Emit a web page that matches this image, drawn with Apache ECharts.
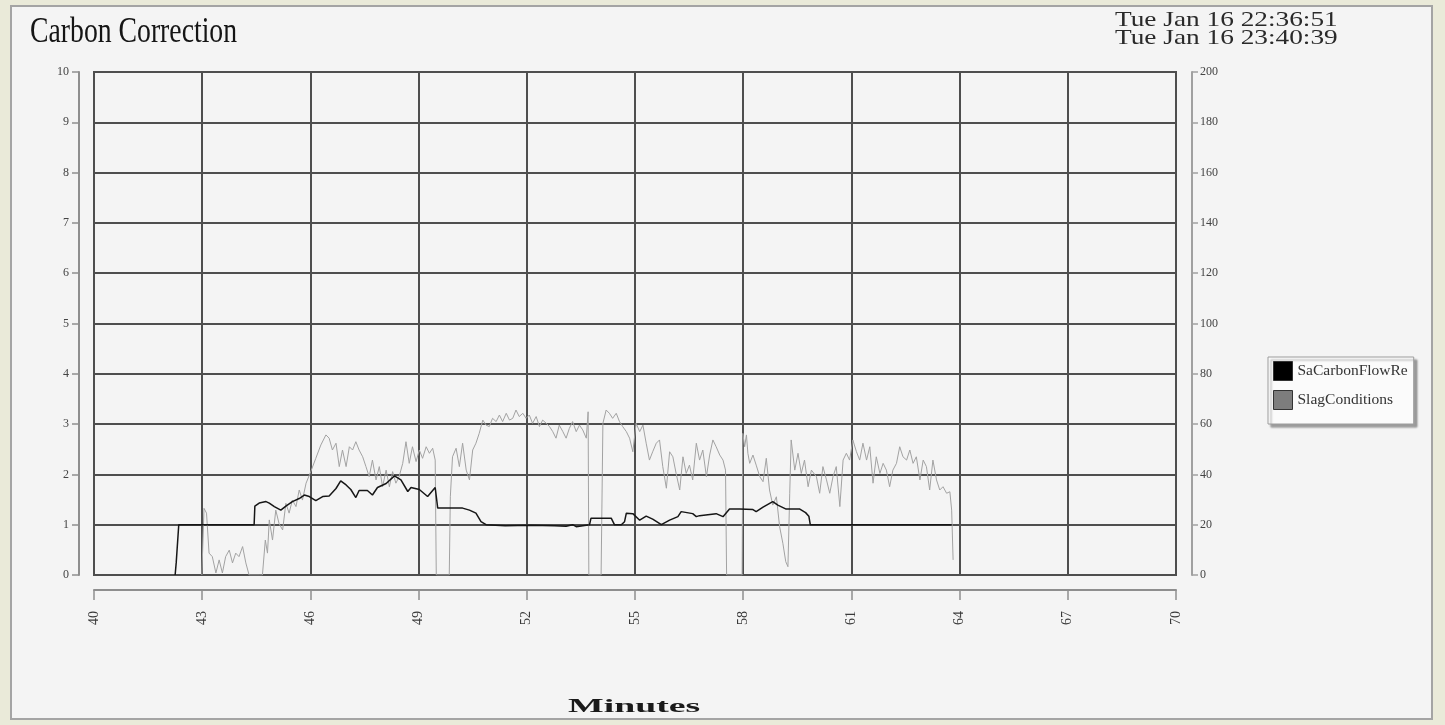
<!DOCTYPE html>
<html>
<head>
<meta charset="utf-8">
<title>Carbon Correction</title>
<script src="https://cdn.jsdelivr.net/npm/echarts@6/dist/echarts.min.js"></script>
<style>
  html, body { margin: 0; padding: 0; background: #eaead9; }
  #chart { width: 1445px; height: 725px; }
</style>
</head>
<body>
<div id="chart"></div>
<script>
// Run window, in minutes
const startStamp = 'Tue Jan 16 22:36:51';
const endStamp = 'Tue Jan 16 23:40:39';

const seriesNames = ['SaCarbonFlowRe', 'SlagConditions'];

// SaCarbonFlowRe (left axis, 0-10)
const carbonMinutes = [42.25, 42.28, 42.33, 42.35, 44.44, 44.46, 44.58, 44.77, 44.86, 45.00,
  45.18, 45.32, 45.50, 45.69, 45.83, 45.97, 46.15, 46.34, 46.52, 46.71,
  46.84, 46.99, 47.12, 47.26, 47.35, 47.58, 47.72, 47.86, 48.10, 48.33,
  48.51, 48.70, 48.79, 49.02, 49.25, 49.46, 49.53, 50.22, 50.41, 50.59,
  50.73, 50.87, 51.40, 52.10, 52.77, 52.80, 53.09, 53.27, 53.37, 53.74,
  53.78, 54.34, 54.43, 54.62, 54.71, 54.76, 54.94, 55.13, 55.31, 55.49,
  55.73, 55.96, 56.19, 56.28, 56.60, 56.70, 56.79, 57.25, 57.44, 57.62,
  57.90, 58.27, 58.36, 58.55, 58.82, 58.96, 59.19, 59.57, 59.73, 59.82,
  59.86, 63.78];
const carbonValues = [0, 0.25, 0.25, 1.0, 1.0, 1.37, 1.43, 1.46, 1.43, 1.36,
  1.29, 1.37, 1.46, 1.52, 1.59, 1.56, 1.48, 1.56, 1.57, 1.72,
  1.87, 1.79, 1.70, 1.54, 1.68, 1.68, 1.59, 1.74, 1.82, 1.97,
  1.89, 1.66, 1.74, 1.70, 1.56, 1.74, 1.33, 1.33, 1.29, 1.23,
  1.06, 1.0, 0.98, 0.99, 0.98, 1.01, 0.97, 1.0, 0.96, 1.0,
  1.13, 1.13, 1.0, 1.0, 1.06, 1.23, 1.22, 1.09, 1.17, 1.11,
  1.0, 1.09, 1.16, 1.26, 1.22, 1.16, 1.18, 1.22, 1.16, 1.31,
  1.31, 1.30, 1.26, 1.35, 1.46, 1.39, 1.31, 1.31, 1.24, 1.17,
  1.0, 1.0];

// SlagConditions (right axis, 0-200)
const slagMinutes = [42.99, 43.05, 43.12, 43.19, 43.28, 43.38, 43.47, 43.56, 43.65, 43.75,
  43.84, 43.93, 44.02, 44.12, 44.21, 44.30, 44.58, 44.67, 44.75, 44.81,
  44.86, 44.95, 45.04, 45.13, 45.23, 45.32, 45.41, 45.50, 45.60, 45.69,
  45.78, 45.88, 46.01, 46.15, 46.29, 46.43, 46.52, 46.61, 46.71, 46.80,
  46.89, 46.99, 47.08, 47.17, 47.26, 47.35, 47.45, 47.54, 47.63, 47.72,
  47.82, 47.91, 48.00, 48.10, 48.19, 48.28, 48.37, 48.46, 48.56, 48.65,
  48.74, 48.83, 48.93, 49.02, 49.11, 49.21, 49.30, 49.39, 49.46, 49.49,
  49.85, 49.88, 49.94, 50.04, 50.13, 50.22, 50.32, 50.41, 50.50, 50.59,
  50.68, 50.78, 50.87, 50.96, 51.05, 51.15, 51.24, 51.33, 51.43, 51.52,
  51.61, 51.70, 51.79, 51.89, 51.98, 52.07, 52.16, 52.26, 52.35, 52.44,
  52.54, 52.63, 52.72, 52.81, 52.90, 53.00, 53.09, 53.18, 53.27, 53.37,
  53.46, 53.55, 53.65, 53.70, 53.72, 54.06, 54.11, 54.20, 54.29, 54.38,
  54.48, 54.57, 54.66, 54.76, 54.85, 54.94, 55.03, 55.13, 55.22, 55.31,
  55.40, 55.49, 55.59, 55.68, 55.77, 55.87, 55.96, 56.05, 56.14, 56.24,
  56.33, 56.42, 56.51, 56.60, 56.70, 56.79, 56.88, 56.98, 57.07, 57.16,
  57.25, 57.35, 57.44, 57.51, 57.54, 57.97, 57.99, 58.04, 58.09, 58.13,
  58.18, 58.27, 58.36, 58.46, 58.55, 58.64, 58.73, 58.82, 58.92, 59.01,
  59.10, 59.18, 59.24, 59.29, 59.33, 59.43, 59.52, 59.61, 59.70, 59.80,
  59.89, 60.03, 60.12, 60.21, 60.31, 60.40, 60.49, 60.58, 60.68, 60.77,
  60.86, 60.95, 61.04, 61.14, 61.23, 61.32, 61.42, 61.51, 61.60, 61.69,
  61.79, 61.88, 61.97, 62.06, 62.15, 62.25, 62.34, 62.43, 62.53, 62.62,
  62.71, 62.80, 62.90, 62.99, 63.08, 63.17, 63.26, 63.36, 63.45, 63.54,
  63.64, 63.73, 63.78, 63.82];
const slagValues = [0, 26.5, 24.6, 8.7, 7.3, 0.8, 6.0, 0.8, 7.3, 9.9,
  4.8, 8.7, 7.3, 11.3, 4.8, 0, 0, 0, 13.9, 8.7,
  21.9, 13.9, 25.8, 20.5, 17.9, 28.5, 24.6, 29.8, 27.2, 33.8,
  29.8, 36.5, 41.1, 46.4, 51.7, 55.7, 54.4, 49.7, 52.4, 43.1,
  49.7, 43.1, 51.0, 49.7, 53.0, 49.7, 47.0, 43.1, 39.1, 45.7,
  37.8, 43.1, 35.1, 41.7, 35.1, 41.1, 36.5, 39.1, 44.4, 53.0,
  44.4, 51.0, 45.1, 49.7, 46.4, 51.0, 48.4, 50.4, 45.7, 0,
  0, 31.1, 47.0, 50.4, 43.1, 52.4, 41.7, 37.8, 49.7, 52.4,
  56.3, 61.6, 59.6, 59.0, 62.3, 61.0, 63.6, 61.0, 64.3, 61.6,
  62.3, 65.6, 63.0, 64.3, 62.3, 63.6, 60.3, 63.0, 59.0, 61.6,
  60.3, 59.0, 57.0, 54.4, 59.6, 57.0, 54.4, 58.3, 61.0, 57.0,
  59.6, 57.7, 54.4, 64.9, 0, 0, 60.3, 65.6, 64.3, 62.3,
  64.3, 61.0, 59.0, 57.0, 54.4, 49.0, 60.3, 57.0, 59.6, 52.4,
  45.7, 49.0, 52.4, 53.7, 43.1, 34.5, 49.0, 47.0, 40.4, 33.8,
  47.0, 40.4, 43.7, 37.8, 52.4, 45.7, 49.7, 39.1, 47.7, 53.7,
  51.0, 47.7, 45.7, 41.7, 0, 0, 56.3, 51.0, 55.7, 48.4,
  44.4, 47.7, 43.7, 39.1, 37.1, 46.4, 33.8, 27.8, 31.1, 19.2,
  12.6, 5.3, 3.3, 32.5, 53.7, 41.7, 48.4, 40.4, 45.7, 35.1,
  41.7, 39.1, 32.5, 43.1, 37.8, 32.5, 39.1, 43.1, 27.2, 45.7,
  48.4, 45.7, 53.7, 49.0, 45.7, 52.4, 45.7, 51.0, 36.5, 47.0,
  40.4, 44.4, 41.7, 35.1, 41.7, 44.4, 51.0, 47.0, 45.7, 49.7,
  44.4, 47.0, 37.8, 45.7, 43.1, 33.8, 45.7, 37.8, 33.8, 35.1,
  32.5, 33.1, 25.8, 6.0];

const pairs = (xs, ys) => xs.map((x, i) => [x, ys[i]]);

const gridColor = '#4e4e4e';
const axisColor = '#8e8e8e';
const serif = '"Liberation Serif", "Times New Roman", serif';

const chart = echarts.init(document.getElementById('chart'), null, { renderer: 'canvas' });

chart.setOption({
  animation: false,
  backgroundColor: '#eaead9',
  graphic: [
    {
      type: 'rect', z: -10, silent: true,
      shape: { x: 11, y: 6, width: 1421, height: 713 },
      style: { fill: '#f4f4f4', stroke: '#a4a4a4', lineWidth: 2 }
    },
    {
      type: 'text', x: 30, y: 33, scaleX: 0.77, silent: true,
      style: { text: 'Carbon Correction', font: '36px ' + serif, fill: '#151515',
               align: 'left', verticalAlign: 'middle', textAlign: 'left', textVerticalAlign: 'middle' }
    },
    {
      type: 'text', x: 1115, y: 20, scaleX: 1.3, silent: true,
      style: { text: startStamp, font: '21px ' + serif, fill: '#2a2a2a',
               align: 'left', verticalAlign: 'middle', textAlign: 'left', textVerticalAlign: 'middle' }
    },
    {
      type: 'text', x: 1115, y: 38, scaleX: 1.3, silent: true,
      style: { text: endStamp, font: '21px ' + serif, fill: '#2a2a2a',
               align: 'left', verticalAlign: 'middle', textAlign: 'left', textVerticalAlign: 'middle' }
    },
    {
      type: 'text', x: 568, y: 707, scaleX: 2.1, silent: true,
      style: { text: 'Minutes', font: 'bold 18px ' + serif, fill: '#1a1a1a',
               align: 'left', verticalAlign: 'middle', textAlign: 'left', textVerticalAlign: 'middle' }
    }
  ],
  legend: {
    orient: 'vertical',
    left: 1268,
    top: 357,
    padding: [4, 6, 14, 5],
    itemGap: 9,
    itemWidth: 19,
    itemHeight: 19,
    icon: 'rect',
    backgroundColor: '#fbfbfb',
    borderColor: '#9c9c9c',
    borderWidth: 1,
    shadowColor: 'rgba(0,0,0,0.35)',
    shadowOffsetX: 3,
    shadowOffsetY: 3,
    shadowBlur: 2,
    itemStyle: { borderColor: '#333', borderWidth: 1 },
    textStyle: { fontFamily: serif, fontSize: 15.5, color: '#333' },
    data: [
      { name: seriesNames[0], itemStyle: { color: '#000' } },
      { name: seriesNames[1], itemStyle: { color: '#7d7d7d' } }
    ]
  },
  grid: {
    left: 94, right: 269, top: 72, bottom: 150,
    show: true, borderColor: gridColor, borderWidth: 2,
    backgroundColor: 'transparent', containLabel: false
  },
  xAxis: {
    type: 'value',
    min: 40, max: 70, interval: 3,
    offset: 15,
    axisLine: { show: true, onZero: false, lineStyle: { color: axisColor, width: 2 } },
    axisTick: { show: true, inside: false, length: 10, lineStyle: { color: axisColor, width: 1.5 } },
    axisLabel: { rotate: 90, margin: 21, fontSize: 14, fontFamily: serif, color: '#3a3a3a' },
    splitLine: { show: true, lineStyle: { color: gridColor, width: 2 } }
  },
  yAxis: [
    {
      type: 'value', position: 'left',
      min: 0, max: 10, interval: 1,
      offset: 15,
      axisLine: { show: true, lineStyle: { color: axisColor, width: 2 } },
      axisTick: { show: true, inside: false, length: 7, lineStyle: { color: axisColor, width: 1.5 } },
      axisLabel: { margin: 10, fontSize: 12, fontFamily: serif, color: '#444' },
      splitLine: { show: true, lineStyle: { color: gridColor, width: 2 } }
    },
    {
      type: 'value', position: 'right',
      min: 0, max: 200, interval: 20,
      offset: 16,
      axisLine: { show: true, lineStyle: { color: '#a0a0a0', width: 2 } },
      axisTick: { show: true, inside: false, length: 6, lineStyle: { color: '#a0a0a0', width: 1.5 } },
      axisLabel: { margin: 8, fontSize: 12, fontFamily: serif, color: '#444' },
      splitLine: { show: false }
    }
  ],
  series: [
    {
      name: seriesNames[0],
      type: 'line',
      yAxisIndex: 0,
      z: 4,
      showSymbol: false,
      symbol: 'none',
      itemStyle: { color: '#000' },
      lineStyle: { color: '#161616', width: 1.5 },
      data: pairs(carbonMinutes, carbonValues)
    },
    {
      name: seriesNames[1],
      type: 'line',
      yAxisIndex: 1,
      z: 3,
      showSymbol: false,
      symbol: 'none',
      itemStyle: { color: '#7d7d7d' },
      lineStyle: { color: '#a2a2a2', width: 1 },
      data: pairs(slagMinutes, slagValues)
    }
  ]
});
</script>
</body>
</html>
